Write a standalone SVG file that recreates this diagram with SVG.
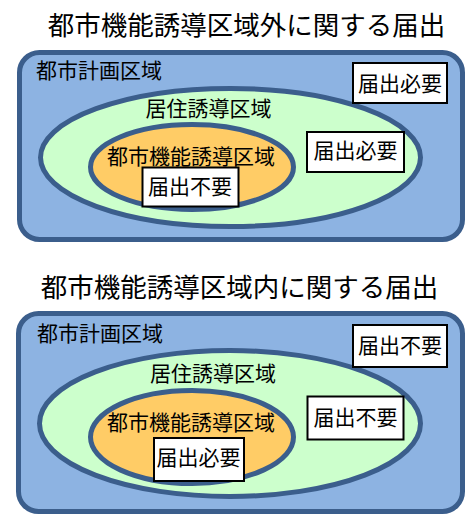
<svg xmlns="http://www.w3.org/2000/svg" width="469" height="527" viewBox="0 0 469 527">
<style>
text{font-family:"Noto Sans CJK JP","Noto Sans CJK SC",sans-serif;fill:#000}
.title{font-size:26.5px;text-anchor:middle}
.lbl{font-size:21px}
.c{text-anchor:middle}
.area{fill:#8DB3E2;stroke:#3B5E8C;stroke-width:5}
.res{fill:#CCFFCC;stroke:#3B5E8C;stroke-width:5}
.urb{fill:#FFCC66;stroke:#3B5E8C;stroke-width:5}
.box{fill:#fff;stroke:#000;stroke-width:2}
</style>
<g id="panel-outside">
<text class="title" x="246.5" y="35">都市機能誘導区域外に関する届出</text>
<g id="city1"><rect class="area" x="19.5" y="52.5" width="443" height="187" rx="20"/><text class="lbl" x="36" y="78">都市計画区域</text></g>
<g id="res1"><ellipse class="res" cx="230.5" cy="157.5" rx="190" ry="69"/><text class="lbl c" x="208.5" y="116">居住誘導区域</text></g>
<g id="urb1"><ellipse class="urb" cx="192" cy="167" rx="101.5" ry="42.5"/><text class="lbl c" x="191" y="164">都市機能誘導区域</text></g>
<g id="box1a"><rect class="box" x="353" y="63" width="94" height="40"/><text class="lbl c" x="400" y="90.5">届出必要</text></g>
<g id="box1b"><rect class="box" x="307" y="132" width="97" height="40"/><text class="lbl c" x="355.5" y="158">届出必要</text></g>
<g id="box1c"><rect class="box" x="142.5" y="167.5" width="96" height="39"/><text class="lbl c" x="190" y="194">届出不要</text></g>
</g>
<g id="panel-inside">
<text class="title" x="239.5" y="297">都市機能誘導区域内に関する届出</text>
<g id="city2"><rect class="area" x="18.5" y="313.5" width="444" height="198" rx="20"/><text class="lbl" x="37" y="341">都市計画区域</text></g>
<g id="res2"><ellipse class="res" cx="230" cy="423.5" rx="190.5" ry="73"/><text class="lbl c" x="213" y="381">居住誘導区域</text></g>
<g id="urb2"><ellipse class="urb" cx="192" cy="437" rx="101.5" ry="46.5"/><text class="lbl c" x="191" y="430">都市機能誘導区域</text></g>
<g id="box2a"><rect class="box" x="353" y="325" width="94" height="42"/><text class="lbl c" x="400" y="353">届出不要</text></g>
<g id="box2b"><rect class="box" x="307.5" y="396.5" width="96" height="43"/><text class="lbl c" x="355.5" y="425">届出不要</text></g>
<g id="box2c"><rect class="box" x="154" y="438" width="90" height="43"/><text class="lbl c" x="198.5" y="465">届出必要</text></g>
</g>
</svg>
